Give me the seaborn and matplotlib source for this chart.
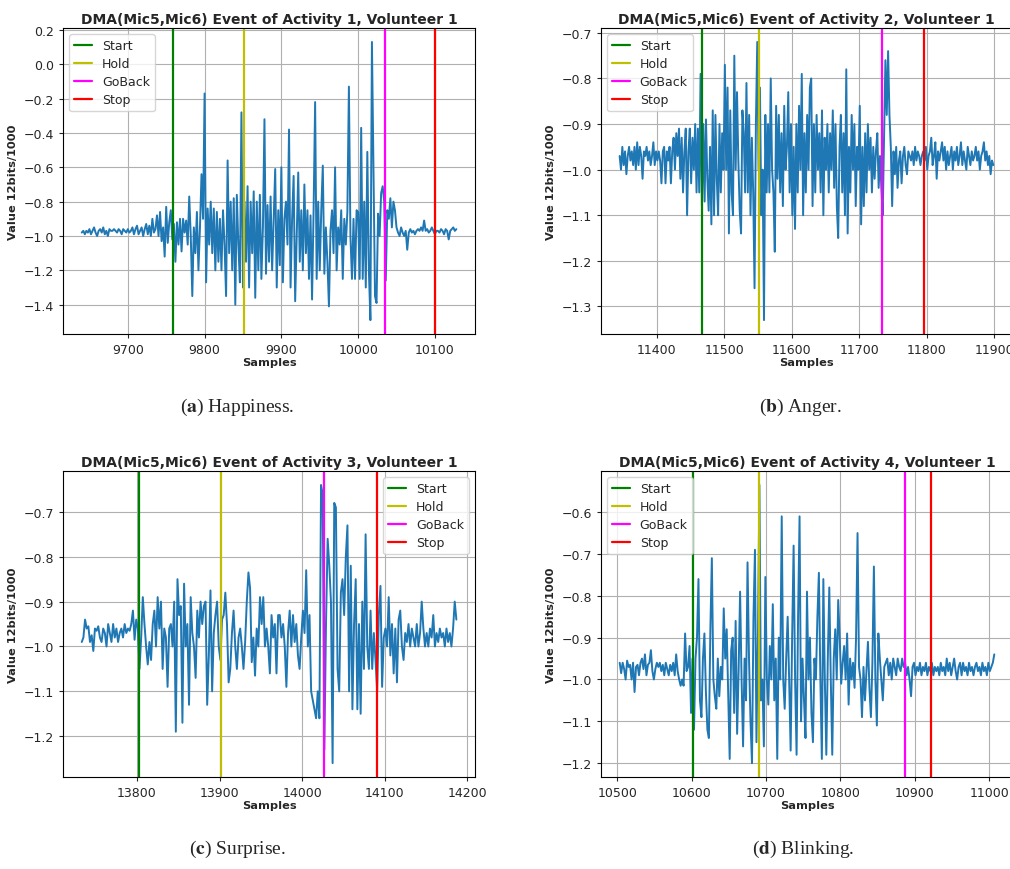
import numpy as np
import pandas as pd
import matplotlib
matplotlib.use("Agg")
import matplotlib.pyplot as plt
import seaborn as sns

# ---- data (step of 2 samples) ----
a_start = 9640
a_values = [
    -0.98, -0.97, -0.99, -0.97, -0.98, -0.96, -0.99, -0.97, -0.95, -0.98,
    -1.00, -0.97, -0.96, -0.98, -0.95, -0.99, -0.97, -1.00, -0.96, -0.97,
    -0.97, -0.96, -0.97, -0.98, -0.96, -0.97, -0.99, -0.96, -0.97, -0.98,
    -0.96, -0.98, -0.97, -0.95, -0.99, -0.96, -0.94, -0.99, -0.97, -0.95,
    -1.00, -0.96, -0.93, -0.99, -0.94, -1.00, -0.90, -0.98, -0.96, -0.88,
    -1.00, -0.86, -1.03, -0.95, -1.12, -0.83, -1.04, -0.92, -0.85, -1.02,
    -0.93, -1.15, -0.92, -1.05, -0.90, -1.09, -0.90, -0.98, -0.91, -1.05,
    -0.77, -1.00, -1.35, -0.95, -1.10, -0.86, -1.20, -0.95, -0.64, -0.90,
    -0.17, -1.27, -0.84, -1.05, -0.80, -1.10, -0.84, -1.20, -0.86, -1.15,
    -0.90, -1.20, -0.85, -1.05, -1.35, -0.56, -1.10, -0.80, -1.20, -0.78,
    -1.40, -0.76, -1.05, -1.27, -0.28, -1.30, -0.80, -1.15, -0.71, -1.30,
    -0.80, -1.10, -0.74, -1.36, -0.80, -1.20, -0.76, -1.25, -0.95, -0.32,
    -1.22, -0.82, -1.15, -0.77, -1.20, -0.90, -0.61, -1.30, -0.85, -1.17,
    -0.60, -1.27, -0.90, -0.80, -1.05, -0.38, -1.30, -0.90, -0.65, -1.38,
    -1.00, -0.63, -1.15, -0.85, -1.20, -0.70, -1.10, -0.85, -1.25, -0.88,
    -1.37, -0.85, -0.22, -1.25, -0.80, -1.20, -0.85, -0.59, -1.22, -0.95,
    -1.15, -1.41, -0.97, -0.85, -1.10, -0.60, -1.20, -0.95, -1.05, -0.85,
    -1.25, -0.90, -1.05, -0.86, -0.13, -1.00, -1.25, -0.90, -1.25, -0.85,
    -0.86, -1.25, -0.37, -1.25, -0.80, -1.30, -0.51, -1.20, -1.49, 0.13,
    -0.60, -1.35, -1.39, -0.87, -1.00, -0.75, -0.71, -0.80, -1.26, -0.85,
    -0.90, -0.78, -0.95, -0.80, -0.85, -0.95, -0.98, -1.00, -0.95, -0.98,
    -1.00, -0.97, -1.08, -0.98, -0.96, -0.98, -0.97, -0.99, -0.97, -0.96,
    -0.97, -0.95, -0.97, -0.91, -0.97, -0.96, -0.98, -0.97, -0.95, -0.97,
    -0.99, -0.97, -0.97, -0.98, -0.96, -0.97, -0.99, -0.96, -0.97, -1.02,
    -0.97, -0.96, -0.95, -0.97, -0.96,
]

b_start = 11345
b_values = [
    -0.97, -1.00, -0.95, -0.99, -0.96, -1.01, -0.97, -0.95, -0.98, -0.96,
    -0.99, -0.95, -1.00, -0.94, -0.99, -0.95, -0.97, -1.02, -0.96, -0.97,
    -0.95, -0.98, -0.96, -0.99, -0.97, -0.94, -0.99, -0.96, -0.98, -0.96,
    -0.98, -1.03, -0.96, -0.95, -1.03, -0.96, -0.98, -0.95, -1.03, -0.96,
    -0.93, -1.00, -0.92, -0.97, -0.91, -1.02, -0.93, -1.05, -0.96, -0.91,
    -1.10, -0.96, -0.91, -1.03, -0.93, -1.00, -0.90, -1.05, -0.91, -1.05,
    -0.79, -1.08, -0.90, -1.07, -0.89, -1.02, -1.09, -0.95, -1.12, -0.87,
    -1.10, -0.88, -1.02, -1.10, -0.90, -1.05, -0.92, -1.00, -0.77, -1.00,
    -0.82, -1.14, -0.87, -1.05, -1.10, -0.75, -1.00, -0.83, -0.98, -1.09,
    -1.14, -0.87, -0.92, -1.05, -0.81, -1.05, -0.88, -1.10, -0.93, -1.05,
    -1.26, -0.90, -0.72, -1.00, -0.82, -1.10, -1.00, -1.33, -0.88, -1.05,
    -0.90, -1.05, -0.80, -1.00, -1.05, -1.18, -0.86, -1.02, -0.88, -1.05,
    -0.92, -1.08, -0.86, -1.00, -0.95, -0.83, -1.05, -0.90, -1.10, -0.95,
    -1.13, -0.90, -1.05, -0.86, -1.00, -0.79, -1.10, -0.92, -1.05, -0.88,
    -1.00, -0.82, -0.80, -1.08, -0.90, -1.05, -0.88, -1.00, -0.92, -1.05,
    -0.87, -1.10, -0.93, -1.00, -0.90, -1.05, -0.92, -1.00, -0.87, -1.04,
    -0.90, -1.08, -1.15, -0.95, -0.88, -1.05, -0.92, -1.10, -0.78, -1.14,
    -0.95, -1.05, -0.88, -1.00, -0.90, -1.08, -0.95, -1.00, -0.86, -1.12,
    -0.95, -1.08, -0.92, -1.05, -0.90, -1.00, -0.93, -1.05, -0.95, -1.02,
    -0.96, -0.92, -1.04, -0.97, -1.04, -1.10, -0.93, -0.76, -0.88, -0.74,
    -0.88, -0.95, -1.08, -0.96, -1.01, -0.95, -1.04, -0.98, -0.96, -1.03,
    -0.97, -0.95, -0.99, -1.01, -0.96, -0.97, -0.98, -0.96, -0.99, -0.95,
    -0.98, -0.96, -0.97, -0.99, -0.97, -0.96, -0.98, -0.95, -1.00, -0.97,
    -0.96, -0.93, -0.99, -0.97, -0.94, -1.02, -0.96, -0.98, -0.96, -0.94,
    -0.98, -0.95, -1.00, -0.96, -0.99, -0.97, -0.95, -1.00, -0.96, -0.98,
    -0.95, -0.99, -0.97, -0.94, -0.99, -0.96, -0.98, -1.00, -0.95, -0.97,
    -0.99, -0.96, -0.98, -0.97, -0.95, -0.98, -0.96, -1.00, -0.97, -0.96,
    -0.94, -0.98, -0.96, -0.99, -0.97, -1.01, -0.98, -0.99,
]

c_start = 13733
c_values = [
    -0.99, -0.98, -0.94, -0.96, -0.955, -0.99, -0.975, -1.01, -0.96, -0.965,
    -0.955, -0.98, -0.99, -0.96, -0.97, -1.00, -0.95, -0.97, -0.99, -0.95,
    -0.98, -0.96, -0.99, -0.97, -0.96, -0.98, -0.95, -0.97, -0.96, -0.965,
    -0.95, -0.92, -0.985, -0.94, -0.96, -1.05, -0.98, -0.89, -0.95, -1.00,
    -1.04, -0.99, -1.03, -0.95, -0.92, -1.00, -0.89, -0.96, -0.90, -1.05,
    -0.96, -0.98, -1.09, -0.96, -0.95, -1.00, -0.90, -1.19, -0.85, -0.93,
    -0.91, -1.17, -0.86, -1.00, -0.95, -1.13, -0.89, -0.97, -1.00, -1.07,
    -0.92, -0.98, -0.90, -0.95, -0.91, -0.90, -1.13, -1.02, -0.875, -1.10,
    -0.97, -0.93, -0.90, -1.00, -1.03, -0.94, -0.93, -0.88, -0.95, -1.08,
    -1.05, -0.97, -0.92, -1.00, -1.05, -0.98, -0.96, -1.00, -1.05, -0.99,
    -0.90, -0.835, -0.87, -1.035, -0.98, -1.065, -0.96, -1.00, -0.89, -0.95,
    -0.89, -1.00, -0.96, -1.00, -1.06, -0.93, -0.98, -0.95, -1.06, -0.93,
    -0.93, -0.98, -0.95, -1.00, -1.09, -0.97, -0.92, -1.00, -0.93, -0.99,
    -0.95, -1.02, -1.05, -0.98, -0.92, -0.97, -0.83, -1.00, -0.93, -1.10,
    -1.12, -1.14, -1.16, -1.10, -1.16, -0.64, -0.66, -1.23, -0.95, -0.76,
    -0.82, -0.90, -1.26, -0.68, -0.69, -1.05, -1.10, -0.88, -0.85, -0.93,
    -0.80, -0.73, -1.10, -0.82, -1.14, -0.95, -0.85, -1.14, -0.95, -1.15,
    -0.90, -1.05, -0.75, -1.00, -1.05, -0.92, -1.05, -0.97, -1.03, -1.10,
    -0.93, -0.865, -1.09, -0.98, -0.96, -1.00, -0.89, -1.02, -0.95, -1.06,
    -0.96, -1.08, -0.94, -0.92, -1.00, -1.03, -0.97, -0.99, -0.95, -1.00,
    -0.96, -0.98, -1.00, -0.95, -1.00, -0.97, -0.90, -0.96, -1.00, -0.97,
    -1.00, -0.96, -0.98, -0.93, -1.00, -0.97, -0.99, -0.96, -0.98, -0.97,
    -1.00, -0.96, -0.99, -0.97, -1.00, -0.96, -0.90, -0.94,
]

d_start = 10503
d_values = [
    -0.96, -0.985, -0.96, -0.975, -1.00, -0.955, -0.97, -0.965, -1.00, -0.96,
    -1.03, -0.97, -0.965, -0.99, -0.96, -0.95, -0.975, -0.94, -0.99, -0.965,
    -0.96, -0.93, -0.98, -1.00, -0.975, -0.96, -0.97, -0.96, -0.98, -0.965,
    -0.99, -0.96, -0.975, -0.99, -0.965, -0.98, -0.96, -0.99, -0.94, -0.98,
    -1.00, -1.015, -1.00, -1.015, -0.89, -0.98, -0.97, -0.92, -1.08, -0.95,
    -1.12, -0.95, -0.90, -0.76, -1.05, -1.09, -0.95, -0.89, -1.03, -1.12,
    -1.14, -0.88, -0.71, -1.00, -1.04, -1.07, -0.95, -1.04, -0.97, -1.00,
    -0.83, -0.95, -0.88, -1.03, -1.19, -0.93, -0.90, -1.08, -0.86, -1.13,
    -0.98, -0.79, -1.00, -1.16, -0.95, -1.05, -0.72, -0.95, -1.10, -1.20,
    -0.85, -0.69, -1.15, -0.90, -0.535, -1.05, -1.00, -1.16, -0.755, -1.00,
    -1.06, -0.92, -1.00, -0.82, -1.05, -0.95, -1.19, -0.90, -1.00, -0.61,
    -1.00, -1.07, -0.95, -0.85, -1.00, -1.17, -0.90, -0.68, -1.00, -1.18,
    -0.85, -0.61, -1.10, -0.95, -1.05, -1.14, -0.79, -1.00, -0.90, -1.08,
    -1.15, -0.95, -1.00, -0.85, -0.745, -1.00, -1.19, -0.76, -1.00, -1.18,
    -0.95, -0.78, -1.00, -1.18, -0.95, -0.88, -1.00, -0.81, -0.90, -1.01,
    -0.96, -0.92, -1.00, -0.89, -1.06, -0.95, -1.00, -0.96, -1.02, -0.90,
    -0.65, -0.97, -1.00, -1.09, -0.97, -1.05, -0.98, -0.91, -1.02, -1.09,
    -0.96, -0.73, -1.00, -1.11, -0.89, -0.95, -1.00, -1.05, -0.97, -0.96,
    -0.95, -0.99, -0.96, -1.00, -0.95, -0.97, -0.99, -0.95, -0.97, -0.98,
    -0.95, -0.97, -0.96, -0.99, -0.97, -1.00, -1.04, -0.97, -0.96, -0.99,
    -0.97, -0.98, -0.96, -0.99, -0.97, -0.98, -0.96, -0.99, -0.97, -0.98,
    -0.96, -0.99, -0.97, -0.98, -0.97, -0.99, -0.96, -0.98, -0.97, -0.99,
    -0.95, -0.98, -0.96, -0.99, -0.97, -0.95, -0.98, -1.00, -0.97, -0.96,
    -0.99, -0.96, -0.98, -0.97, -0.99, -0.96, -0.98, -0.97, -0.99, -0.97,
    -0.96, -0.98, -0.97, -0.99, -0.96, -0.98, -0.97, -0.99, -0.96, -0.98,
    -0.97, -0.96, -0.94,
]

# event markers (sample index) per activity: Start, Hold, GoBack, Stop
event_names = ["Start", "Hold", "GoBack", "Stop"]
event_colors = ["g", "y", "magenta", "r"]
a_events = [9759, 9851, 10035, 10100]
b_events = [11467, 11552, 11734, 11796]
c_events = [13802, 13902, 14026, 14091]
d_events = [10602, 10690, 10887, 10922]

captions = [("a", "Happiness."), ("b", "Anger."), ("c", "Surprise."), ("d", "Blinking.")]


def make_frame(start, values):
    samples = start + 2 * np.arange(len(values))
    return pd.DataFrame({"Samples": samples, "Value": values})


sns.set_style("ticks", {"axes.grid": True, "grid.color": "#b0b0b0",
                        "axes.edgecolor": "black", "xtick.direction": "out",
                        "ytick.direction": "out"})
plt.rcParams["font.family"] = ["DejaVu Sans"]
plt.rcParams["font.size"] = 9
plt.rcParams["axes.unicode_minus"] = True

fig = plt.figure(figsize=(10.1, 8.7), dpi=100)

panels = [
    (a_start, a_values, a_events, 1, [0.0624, 0.6149, 0.408, 0.3517], "upper left"),
    (b_start, b_values, b_events, 2, [0.5950, 0.6149, 0.407, 0.3517], "upper left"),
    (c_start, c_values, c_events, 3, [0.0624, 0.1057, 0.408, 0.3517], "upper right"),
    (d_start, d_values, d_events, 4, [0.5950, 0.1057, 0.408, 0.3517], "upper left"),
]

for start, values, events, act, rect, loc in panels:
    ax = fig.add_axes(rect)
    df = make_frame(start, values)
    sns.lineplot(data=df, x="Samples", y="Value", ax=ax, color="#1f77b4",
                 linewidth=1.4)
    for name, col, ev in zip(event_names, event_colors, events):
        ax.axvline(ev, color=col, linewidth=1.6, label=name)
    ax.set_title(f"DMA(Mic5,Mic6) Event of Activity {act}, Volunteer 1",
                 fontsize=10, fontweight="bold", pad=4)
    ax.set_xlabel("Samples", fontsize=8.2, fontweight="bold", labelpad=1)
    ax.set_ylabel("Value 12bits/1000", fontsize=8.2, fontweight="bold")
    ax.tick_params(labelsize=9, length=3, width=0.8)
    ax.grid(True, color="#b0b0b0", linewidth=0.8)
    for sp in ax.spines.values():
        sp.set_linewidth(0.8)
    ax.legend(loc=loc, fontsize=9, framealpha=0.8, handlelength=1.4,
              handletextpad=0.8, borderpad=0.4, labelspacing=0.4)

# sub-figure captions, letter in bold
cap_pos = [(0.235, 0.527), (0.793, 0.527), (0.235, 0.019), (0.795, 0.019)]
for (letter, word), (cx, cy) in zip(captions, cap_pos):
    fig.text(cx, cy, "(" + r"$\bf{" + letter + "}$" + f") {word}", ha="center",
             va="baseline", fontsize=14, family="Liberation Serif",
             math_fontfamily="stix")

fig.savefig("out.png", dpi=100)
